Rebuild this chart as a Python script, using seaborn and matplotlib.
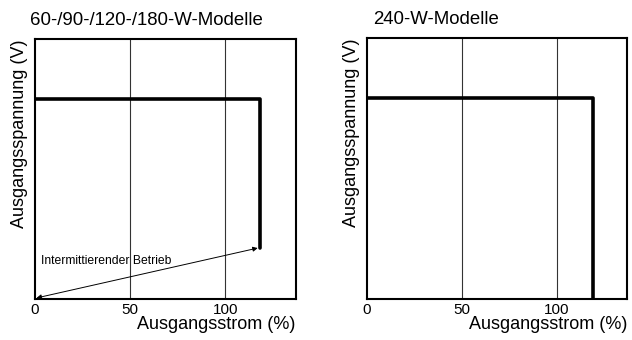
import matplotlib
matplotlib.use("Agg")
import matplotlib.pyplot as plt
import seaborn as sns

sns.set_style("white")
plt.rcParams['font.family'] = ['Liberation Sans', 'DejaVu Sans']
plt.rcParams['text.color'] = 'black'
plt.rcParams['axes.labelcolor'] = 'black'
plt.rcParams['xtick.color'] = 'black'

# output current (%) vs output voltage (relative, 0-100)
small_models_title = "60-/90-/120-/180-W-Modelle"
small_current = [0, 118, 118]
small_voltage = [77, 77, 19.6]

big_models_title = "240-W-Modelle"
big_current = [0, 119, 119]
big_voltage = [77, 77, 0]

xticks = [0, 50, 100]
xlabel = "Ausgangsstrom (%)"
ylabel = "Ausgangsspannung (V)"
note = "Intermittierender Betrieb"

fig = plt.figure(figsize=(6.32, 3.4), dpi=100)
ax1 = fig.add_axes([0.0554, 0.1206, 0.4126, 0.7644])
ax2 = fig.add_axes([0.580, 0.1206, 0.412, 0.7674])


def style(ax, title, title_x):
  ax.set_xlim(0, 137)
  ax.set_ylim(0, 100)
  ax.set_xticks(xticks)
  ax.set_xticklabels([str(t) for t in xticks], fontsize=11)
  ax.set_yticks([])
  ax.tick_params(axis="x", length=0, pad=3)
  for x in xticks[1:]:
    ax.axvline(x, color="#333333", lw=0.8, zorder=1)
  for s in ax.spines.values():
    s.set_color("black")
    s.set_linewidth(1.5)
  ax.set_xlabel(xlabel, fontsize=13, loc="right", labelpad=-1)
  ax.set_ylabel(ylabel, fontsize=13, loc="top", labelpad=5)
  ax.set_title(title, fontsize=13.4, loc="left", x=title_x, pad=10)


sns.lineplot(x=small_current, y=small_voltage, sort=False, estimator=None,
             color="black", lw=2.6, ax=ax1, zorder=3)
style(ax1, small_models_title, -0.02)
ax1.annotate("", xy=(0.8, 0.4), xytext=(small_current[-1] - 1, small_voltage[-1]),
             arrowprops=dict(arrowstyle="<|-|>", color="black", lw=0.7,
                             mutation_scale=7, shrinkA=0, shrinkB=0))
ax1.text(3, 14.5, note, fontsize=8.7, va="center", ha="left")

sns.lineplot(x=big_current, y=big_voltage, sort=False, estimator=None,
             color="black", lw=2.6, ax=ax2, zorder=3)
style(ax2, big_models_title, 0.025)

plt.savefig("out.png", dpi=100)
